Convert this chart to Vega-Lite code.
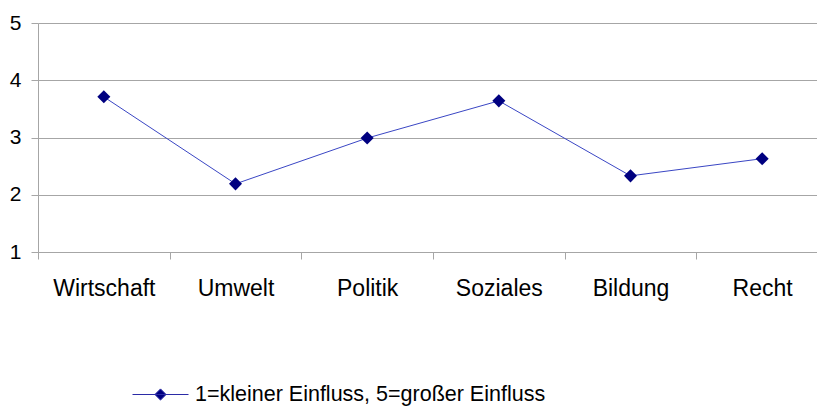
{
  "$schema": "https://vega.github.io/schema/vega-lite/v6.json",
  "autosize": {"type": "none"},
  "padding": {"left": 38, "top": 23, "right": 0, "bottom": 154},
  "width": 790,
  "height": 229,
  "background": "white",
  "config": {
    "view": {"stroke": null},
    "font": "Liberation Sans"
  },
  "data": {
    "values": [
      {"bereich": "Wirtschaft", "wert": 3.71, "serie": "1=kleiner Einfluss, 5=großer Einfluss"},
      {"bereich": "Umwelt", "wert": 2.19, "serie": "1=kleiner Einfluss, 5=großer Einfluss"},
      {"bereich": "Politik", "wert": 2.99, "serie": "1=kleiner Einfluss, 5=großer Einfluss"},
      {"bereich": "Soziales", "wert": 3.64, "serie": "1=kleiner Einfluss, 5=großer Einfluss"},
      {"bereich": "Bildung", "wert": 2.33, "serie": "1=kleiner Einfluss, 5=großer Einfluss"},
      {"bereich": "Recht", "wert": 2.63, "serie": "1=kleiner Einfluss, 5=großer Einfluss"}
    ]
  },
  "encoding": {
    "x": {
      "field": "bereich",
      "type": "nominal",
      "sort": null,
      "scale": {"type": "band", "paddingInner": 0, "paddingOuter": 0},
      "axis": {
        "title": null,
        "labelAngle": 0,
        "labelFontSize": 23,
        "labelColor": "#000000",
        "labelPadding": 18,
        "tickBand": "extent",
        "tickSize": 7,
        "tickColor": "#a6a6a6",
        "domainColor": "#a6a6a6",
        "grid": false
      }
    },
    "y": {
      "field": "wert",
      "type": "quantitative",
      "scale": {"domain": [1, 5], "nice": false, "zero": false},
      "axis": {
        "title": null,
        "values": [1, 2, 3, 4, 5],
        "format": "d",
        "labelFontSize": 21,
        "labelColor": "#000000",
        "labelPadding": 10,
        "tickSize": 7,
        "tickColor": "#a6a6a6",
        "domainColor": "#a6a6a6",
        "gridColor": "#a6a6a6",
        "gridOpacity": 1
      }
    }
  },
  "layer": [
    {
      "mark": {"type": "line", "color": "#3a46c4", "strokeWidth": 1},
      "encoding": {}
    },
    {
      "mark": {"type": "point", "shape": "diamond", "filled": true, "size": 170, "opacity": 1},
      "encoding": {
        "color": {
          "field": "serie",
          "type": "nominal",
          "scale": {"range": ["#000080"]},
          "legend": {
            "title": null,
            "orient": "none",
            "legendX": 94,
            "legendY": 343,
            "padding": 0,
            "symbolType": "M-1,0H1M-0.2,0L0,-0.2L0.2,0L0,0.2Z",
            "symbolSize": 3136,
            "symbolStrokeColor": "#2b2ba6",
            "symbolFillColor": "#000080",
            "symbolStrokeWidth": 1,
            "labelFontSize": 21.5,
            "labelColor": "#000000",
            "labelOffset": 6,
            "labelLimit": 600
          }
        }
      }
    }
  ]
}
